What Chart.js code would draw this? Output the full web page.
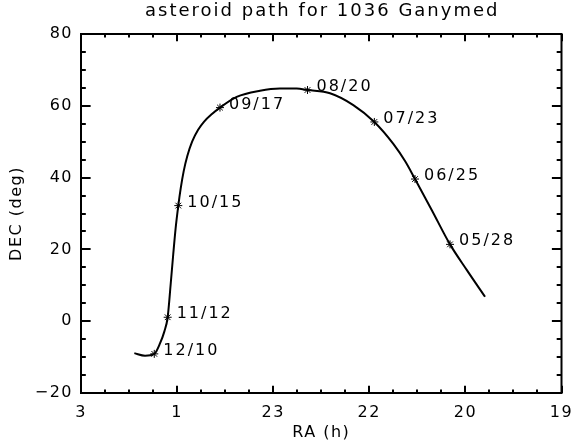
<!DOCTYPE html>
<html>
<head>
<meta charset="utf-8">
<title>asteroid path for 1036 Ganymed</title>
<script src="https://cdn.jsdelivr.net/npm/chart.js@4/dist/chart.umd.min.js"></script>
<style>
  html, body { margin: 0; padding: 0; background: #fff; }
</style>
</head>
<body>
<canvas id="myChart" width="571" height="445"></canvas>
<script>
// path of 1036 Ganymed: RA in hours, DEC in degrees
const pathRA = [2.112, 1.934, 1.780, 1.685, 1.613, 1.557, 1.506, 1.465, 1.425, 1.380,
  1.340, 1.290, 1.230, 1.150, 1.050, 0.950, 0.820, 0.686, 0.408, 0.020,
  23.687, 23.409, 23.229, 22.854, 22.466, 22.116, 21.800, 21.605, 21.439, 21.161,
  20.856, 20.578, 20.273];
const pathDEC = [-8.9, -9.6, -9.1, -6.2, -2.9, 1.1, 10.5, 18.5, 25.8, 32.2,
  37.0, 41.8, 46.0, 50.0, 53.3, 55.6, 57.7, 59.5, 62.5, 64.2,
  64.8, 64.8, 64.4, 63.5, 60.2, 55.5, 49.4, 44.6, 39.6, 31.0,
  21.4, 14.3, 6.8];

// dated positions marked with an asterisk
const markDates = ["12/10", "11/12", "10/15", "09/17", "08/20", "07/23", "06/25", "05/28"];
const markRA = [1.780, 1.557, 1.380, 0.686, 23.229, 22.116, 21.439, 20.856];
const markDEC = [-9.1, 1.1, 32.2, 59.5, 64.4, 55.5, 39.6, 21.4];

// axis ticks (RA runs through 0h, labels are the truncated hours)
const raTicks = [3, 1.4, -0.2, -1.8, -3.4, -5];
const raTickLabels = ["3", "1", "23", "22", "20", "19"];
const decTicks = [-20, 0, 20, 40, 60, 80];

const titleText = "asteroid path for 1036 Ganymed";
const font = { family: "'DejaVu Sans', sans-serif", size: 16 };

// RA wraps at 24h, keep it continuous across 0h
function unwrap(ra) {
  return ra > 12 ? ra - 24 : ra;
}

function toPoints(ras, decs) {
  return ras.map((ra, i) => ({ x: unwrap(ra), y: decs[i] }));
}

const spacing = {
  id: "spacing",
  beforeUpdate(chart) { chart.ctx.letterSpacing = "1.5px"; },
  beforeLayout(chart) { chart.ctx.letterSpacing = "1.5px"; },
  beforeDraw(chart) { chart.ctx.letterSpacing = "1.5px"; }
};

// IDL style box with inward ticks on all four sides, title and date labels
const frame = {
  id: "frame",
  afterDatasetsDraw(chart) {
    const { ctx, chartArea: a, scales: { x, y } } = chart;
    const xLen = 0.02 * (a.bottom - a.top);
    const yLen = 0.02 * (a.right - a.left);
    ctx.save();
    ctx.strokeStyle = "#000";
    ctx.lineWidth = 2;
    ctx.strokeRect(a.left, a.top, a.right - a.left, a.bottom - a.top);

    ctx.beginPath();
    const xMin = raTicks[raTicks.length - 1], xStep = (raTicks[0] - raTicks[1]) / 4;
    for (let i = 0; xMin + i * xStep <= raTicks[0] + 1e-6; i++) {
      const px = Math.round(x.getPixelForValue(xMin + i * xStep));
      const len = i % 4 === 0 ? xLen : xLen / 2;
      ctx.moveTo(px, a.bottom); ctx.lineTo(px, a.bottom - len);
      ctx.moveTo(px, a.top); ctx.lineTo(px, a.top + len);
    }
    for (let v = decTicks[0]; v <= decTicks[decTicks.length - 1]; v += 5) {
      const py = Math.round(y.getPixelForValue(v));
      const len = v % 20 === 0 ? yLen : yLen / 2;
      ctx.moveTo(a.left, py); ctx.lineTo(a.left + len, py);
      ctx.moveTo(a.right, py); ctx.lineTo(a.right - len, py);
    }
    ctx.stroke();

    ctx.fillStyle = "#000";
    ctx.font = "16px 'DejaVu Sans', sans-serif";
    ctx.letterSpacing = "2px";
    ctx.textAlign = "left";
    ctx.textBaseline = "alphabetic";
    markDates.forEach((d, i) => {
      const px = x.getPixelForValue(unwrap(markRA[i]));
      const py = y.getPixelForValue(markDEC[i]);
      ctx.fillText(d, px + 9, py + 1);
    });

    ctx.font = "18px 'DejaVu Sans', sans-serif";
    ctx.letterSpacing = "2px";
    ctx.textAlign = "center";
    ctx.fillText(titleText, (a.left + a.right) / 2 + 1, 16);
    ctx.restore();
  }
};

const ctx = document.getElementById("myChart");
new Chart(ctx, {
  type: "scatter",
  data: {
    datasets: [
      {
        label: "path",
        data: toPoints(pathRA, pathDEC),
        showLine: true,
        borderColor: "#000",
        borderWidth: 2,
        pointRadius: 0,
        cubicInterpolationMode: "monotone"
      },
      {
        label: "dates",
        data: toPoints(markRA, markDEC),
        showLine: false,
        pointStyle: "star",
        pointRadius: 4,
        pointBorderWidth: 1,
        borderColor: "#000",
        backgroundColor: "#000"
      }
    ]
  },
  options: {
    responsive: false,
    animation: false,
    layout: { padding: { top: 34, right: 9.5, bottom: 0, left: 0 } },
    plugins: {
      legend: { display: false },
      title: { display: false },
      tooltip: { enabled: false }
    },
    scales: {
      x: {
        type: "linear",
        min: -5,
        max: 3,
        reverse: true,
        afterBuildTicks: (s) => { s.ticks = raTicks.map((v) => ({ value: v })); },
        afterFit: (s) => { s.height = 52; s.paddingLeft = 0; s.paddingRight = 0; },
        ticks: {
          autoSkip: false,
          maxRotation: 0,
          padding: 10,
          color: "#000",
          font: font,
          callback: (v, i) => raTickLabels[i]
        },
        grid: { display: false, drawTicks: false },
        border: { display: false },
        title: { display: true, text: "RA (h)", color: "#000", font: font, padding: { top: 0, bottom: 3 } }
      },
      y: {
        min: -20,
        max: 80,
        afterBuildTicks: (s) => { s.ticks = decTicks.map((v) => ({ value: v })); },
        afterFit: (s) => { s.width = 81; },
        ticks: {
          padding: 8,
          color: "#000",
          font: font,
          callback: (v) => (v < 0 ? "\u2212" + Math.abs(v) : String(v))
        },
        grid: { display: false, drawTicks: false },
        border: { display: false },
        title: { display: true, text: "DEC (deg)", color: "#000", font: font, padding: { top: 7, bottom: 0 } }
      }
    }
  },
  plugins: [spacing, frame]
});
</script>
</body>
</html>
